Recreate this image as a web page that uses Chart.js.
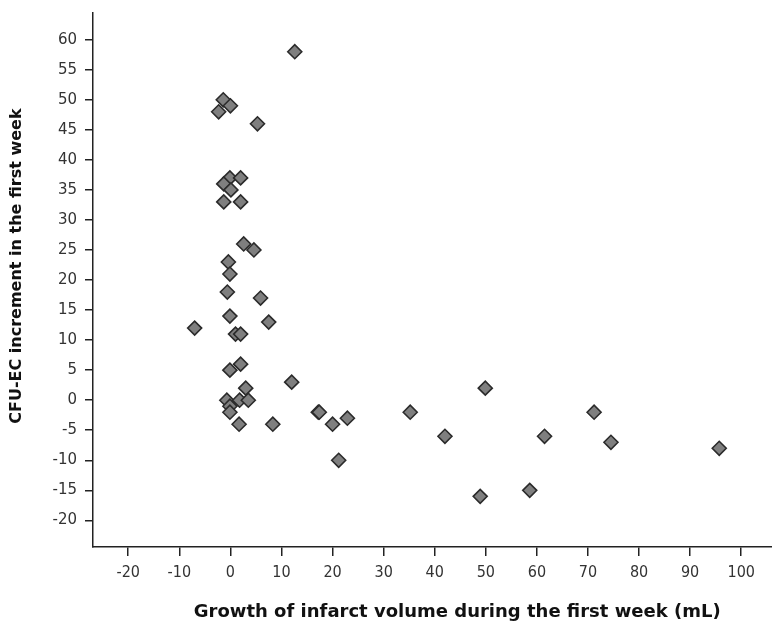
<!DOCTYPE html>
<html>
<head>
<meta charset="utf-8">
<script src="https://cdn.jsdelivr.net/npm/chart.js@4.4.1/dist/chart.umd.min.js"></script>
<style>
html, body { margin: 0; padding: 0; overflow: hidden; background: #fff; }
#wrap { width: 830px; height: 629px; }
</style>
</head>
<body>
<div id="wrap"><canvas id="c" width="830" height="629"></canvas></div>
<script>
// Growth of infarct volume during the first week (mL)
const growthML = [
  12.6, -1.4, 0.0, -2.3, 5.3, -0.1, 2.0, -1.3, 0.1, -1.3,
  2.0, 2.6, 4.6, -0.4, -0.1, -0.6, 5.9, -0.1, 7.5, -7.0,
  1.0, 2.0, 2.0, -0.1, 12.0, 3.0, -0.7, 1.8, 3.5, -0.1,
  -0.1, 1.7, 8.3, 17.2, 17.4, 20.0, 22.9, 21.2, 35.2, 42.0,
  49.9, 48.9, 58.6, 61.5, 71.2, 74.5, 95.7
];
// CFU-EC increment in the first week
const cfuIncrement = [
  58, 50, 49, 48, 46, 37, 37, 36, 35, 33,
  33, 26, 25, 23, 21, 18, 17, 14, 13, 12,
  11, 11, 6, 5, 3, 2, 0, 0, 0, -1,
  -2, -4, -4, -2, -2, -4, -3, -10, -2, -6,
  2, -16, -15, -6, -2, -7, -8
];
const xTitle = 'Growth of infarct volume during the first week (mL)';
const yTitle = '     CFU-EC increment in the first week';

const points = growthML.map((x, i) => ({ x: x, y: cfuIncrement[i] }));

new Chart(document.getElementById('c'), {
  type: 'scatter',
  data: {
    datasets: [{
      data: points,
      pointStyle: 'rectRot',
      pointRadius: 7,
      pointHoverRadius: 7,
      backgroundColor: '#7f7f7f',
      borderColor: '#2b2b2b',
      borderWidth: 1.6
    }]
  },
  options: {
    responsive: false,
    animation: false,
    devicePixelRatio: 1,
    layout: { padding: { top: 13, right: 7, left: 0, bottom: 0 } },
    plugins: { legend: { display: false }, tooltip: { enabled: false } },
    scales: {
      x: {
        type: 'linear',
        min: -26.9,
        max: 115.7,
        afterFit: (s) => { s.height = 82; s.paddingLeft = 0; s.paddingRight = 0; },
        border: { display: true, color: '#222', width: 1.5 },
        grid: { drawOnChartArea: false, drawTicks: true, tickLength: 9, color: '#222', lineWidth: 1.5 },
        ticks: {
          stepSize: 10,
          includeBounds: false,
          padding: 7,
          color: '#333',
          font: { family: '"DejaVu Sans Condensed", "DejaVu Sans", sans-serif', size: 16 },
          maxRotation: 0,
          autoSkip: false
        },
        title: {
          display: true,
          text: xTitle,
          color: '#111',
          font: { family: '"DejaVu Sans", sans-serif', size: 18, weight: 'bold' },
          padding: { top: 0, bottom: 6 }
        }
      },
      y: {
        type: 'linear',
        min: -24.43,
        max: 64.44,
        afterFit: (s) => { s.width = 93; s.paddingTop = 0; s.paddingBottom = 0; },
        border: { display: true, color: '#222', width: 1.5 },
        grid: { drawOnChartArea: false, drawTicks: true, tickLength: 8, color: '#222', lineWidth: 1.5 },
        ticks: {
          stepSize: 5,
          includeBounds: false,
          padding: 8,
          color: '#333',
          font: { family: '"DejaVu Sans", sans-serif', size: 15 },
          autoSkip: false
        },
        title: {
          display: true,
          text: yTitle,
          color: '#111',
          font: { family: '"DejaVu Sans", sans-serif', size: 16, weight: 'bold' },
          padding: { top: 7, bottom: 0 }
        }
      }
    }
  }
});
</script>
</body>
</html>
